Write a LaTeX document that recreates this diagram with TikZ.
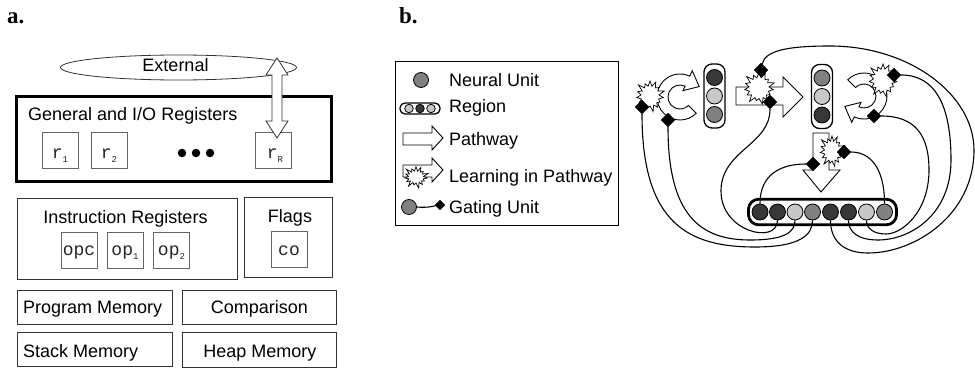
\documentclass[tikz,border=0pt]{standalone}
\usepackage{fontspec}
\setmainfont{Liberation Sans}
\newfontfamily\monofnt{Liberation Mono}
\newfontfamily\labfnt{Liberation Serif}
\usetikzlibrary{shapes.geometric,shapes.symbols,calc}
\definecolor{cdark}{HTML}{383838}
\definecolor{clight}{HTML}{C8C8C8}
\definecolor{cmid}{HTML}{808080}
\pgfdeclarelayer{paper}
\pgfdeclarelayer{wires}
\pgfsetlayers{paper,wires,main}
\newcommand{\subnum}[1]{\raisebox{-4pt}{\fontsize{9}{9}\selectfont #1}}
\begin{document}
\begin{tikzpicture}[x=1pt,y=-1pt,
 txt/.style={font=\fontsize{18}{20}\selectfont, inner sep=0pt, anchor=base},
 mtxt/.style={font=\monofnt\fontsize{18}{20}\selectfont, inner sep=0pt, anchor=base, text=black!85},
 regbox/.style={draw=black!60, line width=0.8pt, minimum width=36pt, minimum height=36pt, inner sep=0pt},
 plainbox/.style={draw=black!80, line width=0.9pt, inner sep=0pt},
 unit/.style={circle, draw, line width=0.8pt, minimum size=16pt, inner sep=0pt},
 gate/.style={diamond, fill=black, draw=black, minimum width=14pt, minimum height=14pt, inner sep=0pt},
 burst/.style={starburst, draw, fill=white, line width=0.7pt, starburst points=15, starburst point height=7pt, inner sep=0pt},
 wire/.style={line width=1.1pt},
 pathway/.style={draw, fill=white, line width=0.9pt, line join=miter},
 regrect/.style={draw, rounded corners=8pt, line width=1.3pt, inner sep=0pt},
 lab/.style={font=\labfnt\bfseries\fontsize{23}{24}\selectfont, inner sep=0pt, anchor=base west},
]
\begin{pgfonlayer}{paper}
\fill[white] (0,0) rectangle (975,369);
\end{pgfonlayer}
\useasboundingbox (0,0) rectangle (975,369);

% labels
\node[lab] (la) at (7,24) {a.};
\node[lab] (lb) at (399,24) {b.};

% ---------- panel a ----------
\node[ellipse, draw=black!80, line width=0.8pt, minimum width=236pt, minimum height=25pt, inner sep=0pt] (ext) at (178.5,67.5) {};
\node[txt] (extt) at (175.5,71) {External};
\node[draw, line width=3.5pt, minimum width=315pt, minimum height=85pt, inner sep=0pt] (gen) at (174,139) {};
\node[txt, anchor=base west] (gent) at (28,121) {General and I/O Registers};
\node[regbox] (r1) at (60,150.5) {};
\node[regbox] (r2) at (109,150.5) {};
\node[regbox] (rR) at (273.5,150.5) {};
\node[mtxt] (r1t) at (60,158) {r\subnum{1}};
\node[mtxt] (r2t) at (109,158) {r\subnum{2}};
\node[mtxt] (rRt) at (275,158) {r\subnum{R}};
\node[circle, fill, minimum size=8.5pt, inner sep=0pt] (dot1) at (182,153) {};
\node[circle, fill, minimum size=8.5pt, inner sep=0pt] (dot2) at (196,153) {};
\node[circle, fill, minimum size=8.5pt, inner sep=0pt] (dot3) at (210,153) {};
\draw[pathway, draw=black!80, line width=0.8pt] (277,58) -- (288,75) -- (282,75) -- (282,121) -- (288,121) -- (277,138) -- (266,121) -- (272,121) -- (272,75) -- (266,75) -- cycle;

\node[plainbox, minimum width=220pt, minimum height=81pt] (ir) at (127,238.5) {};
\node[txt] (irt) at (125.5,223) {Instruction Registers};
\node[regbox] (opc) at (79,250.5) {};
\node[regbox] (op1) at (125,250.5) {};
\node[regbox] (op2) at (171.5,250.5) {};
\node[mtxt] (opct) at (79,255) {opc};
\node[mtxt] (op1t) at (125,255) {op\subnum{1}};
\node[mtxt] (op2t) at (171.5,255) {op\subnum{2}};
\node[plainbox, minimum width=88pt, minimum height=80pt] (fl) at (288,237) {};
\node[txt] (flt) at (290,222) {Flags};
\node[regbox] (co) at (289,249) {};
\node[mtxt] (cot) at (289,255) {co};

\node[plainbox, minimum width=155pt, minimum height=34pt] (pm) at (94.5,307) {};
\node[plainbox, minimum width=154pt, minimum height=34pt] (cmp) at (259,307) {};
\node[plainbox, minimum width=155pt, minimum height=34pt] (sm) at (94.5,349) {};
\node[plainbox, minimum width=154pt, minimum height=35pt] (hm) at (259,349.5) {};
\node[txt, anchor=base west] (pmt) at (23,313) {Program Memory};
\node[txt] (cmpt) at (259.5,313) {Comparison};
\node[txt, anchor=base west] (smt) at (23,357) {Stack Memory};
\node[txt] (hmt) at (260,357) {Heap Memory};

% ---------- panel b: legend ----------
\node[draw, line width=1pt, minimum width=223pt, minimum height=163pt, inner sep=0pt] (leg) at (506.5,143.5) {};
\node[unit, fill=cmid, minimum size=15pt] (lu) at (421,80) {};
\node[txt, anchor=base west] (lut) at (449,87) {Neural Unit};
\node[draw, rounded corners=5pt, line width=1.3pt, minimum width=40pt, minimum height=11pt, inner sep=0pt] (lr) at (420,108.5) {};
\node[unit, fill=clight, minimum size=8.5pt] (lr1) at (409,108.5) {};
\node[unit, fill=cdark, minimum size=8.5pt] (lr2) at (420,108.5) {};
\node[unit, fill=clight, minimum size=8.5pt] (lr3) at (431,108.5) {};
\node[txt, anchor=base west] (lrt) at (449,113) {Region};
\draw[pathway] (403,133) -- (432,133) -- (432,126) -- (443,138) -- (432,150) -- (432,145) -- (403,145) -- cycle;
\node[txt, anchor=base west] (lpt) at (449,145) {Pathway};
\draw[pathway] (403,165) -- (432,165) -- (432,158) -- (443,170) -- (432,182) -- (432,177) -- (403,177) -- cycle;
\node[burst, starburst point height=6pt, minimum width=27pt, minimum height=24pt] (lburst) at (416,177) {};
\node[txt, anchor=base west] (llt) at (449,182) {Learning in Pathway};
\node[unit, fill=cmid, minimum size=15pt] (lg) at (409,207) {};
\node[gate, minimum width=10pt, minimum height=10pt] (lgd) at (440,205) {};
\begin{pgfonlayer}{wires}
\draw[wire] (lg.east) .. controls (428,208) and (434,206) .. (lgd);
\end{pgfonlayer}
\node[txt, anchor=base west] (lgt) at (449,213) {Gating Unit};

% ---------- panel b: network ----------
\node[regrect, minimum width=21pt, minimum height=64pt] (reg1) at (714.5,96) {};
\node[unit, fill=cdark] (a1) at (714.5,77.5) {};
\node[unit, fill=clight] (a2) at (714.5,96) {};
\node[unit, fill=cmid] (a3) at (714.5,114.5) {};
\node[regrect, minimum width=21pt, minimum height=64pt] (reg2) at (822,96.5) {};
\node[unit, fill=cmid] (c1) at (822,78) {};
\node[unit, fill=clight] (c2) at (822,96.5) {};
\node[unit, fill=cdark] (c3) at (822,115) {};
\node[draw, rounded corners=10pt, line width=2.8pt, minimum width=148pt, minimum height=25.5pt, inner sep=0pt] (reg3) at (822.5,212) {};
\node[unit, fill=cdark] (b1) at (760,212) {};
\node[unit, fill=cdark] (b2) at (777.5,212) {};
\node[unit, fill=clight] (b3) at (795,212) {};
\node[unit, fill=cmid] (b4) at (812.5,212) {};
\node[unit, fill=cdark] (b5) at (830.5,212) {};
\node[unit, fill=cdark] (b6) at (848.5,212) {};
\node[unit, fill=clight] (b7) at (866.5,212) {};
\node[unit, fill=cmid] (b8) at (884.5,212) {};

% pathways
\draw[pathway] (736,87) -- (783,87) -- (783,77) -- (803,97) -- (783,117) -- (783,105) -- (736,105) -- cycle;
\draw[pathway] (813,133) -- (829,133) -- (829,170) -- (840,170) -- (821,192) -- (803,170) -- (813,170) -- cycle;
\coordinate (lc) at (680,97);
\draw[pathway] ($(lc)+(45:23)$) arc[start angle=45, end angle=295, radius=23] -- ($(lc)+(295:29)$) -- ($(lc)+(19.2,-10.4)$) -- ($(lc)+(295:7)$) -- ($(lc)+(295:12)$) arc[start angle=295, end angle=45, radius=12] -- cycle;
\coordinate (rc) at (864,96);
\draw[pathway] ($(rc)+(225:23)$) arc[start angle=225, end angle=475, radius=23] -- ($(rc)+(475:29)$) -- ($(rc)+(-19.2,10.4)$) -- ($(rc)+(475:7)$) -- ($(rc)+(475:12)$) arc[start angle=475, end angle=225, radius=12] -- cycle;

% learning bursts
\node[burst, minimum width=32pt, minimum height=34pt] (sL) at (650,96) {};
\node[burst, minimum width=34pt, minimum height=35pt] (sP) at (759,88) {};
\node[burst, minimum width=29pt, minimum height=34pt] (sD) at (832,151) {};
\node[burst, minimum width=33pt, minimum height=36pt] (sR) at (883,80) {};

% gating units
\node[gate] (dL1) at (642,107) {};
\node[gate] (dL2) at (668,120) {};
\node[gate] (dP1) at (761,70) {};
\node[gate] (dP2) at (770,102) {};
\node[gate] (dD1) at (813,164) {};
\node[gate] (dD2) at (844,152) {};
\node[gate] (dR1) at (894,75) {};
\node[gate] (dR2) at (874,116) {};

\begin{pgfonlayer}{wires}
\draw[wire] (b1.north) .. controls (760,175) and (780,164) .. (dD1);
\draw[wire] (b8.north) .. controls (884.5,165) and (868,152) .. (dD2);
\draw[wire] (dP2) .. controls (770,145) and (722,150) .. (721,190) .. controls (720,232) and (777.5,245) .. (b2.south);
\draw[wire] (dL2) .. controls (668,215) and (700,240) .. (750,240) .. controls (785,240) and (795,232) .. (b3.south);
\draw[wire] (dL1) .. controls (642,225) and (690,247) .. (755,247) .. controls (800,247) and (812.5,235) .. (b4.south);
\draw[wire] (dP1) .. controls (765,50) and (790,46) .. (830,46) .. controls (910,46) and (974,95) .. (974,150) .. controls (974,215) and (915,253) .. (868,253) .. controls (845,253) and (830.5,242) .. (b5.south);
\draw[wire] (dR1) .. controls (935,75) and (951,105) .. (951,160) .. controls (951,215) and (910,240) .. (878,240) .. controls (858,240) and (848.5,232) .. (b6.south);
\draw[wire] (dR2) .. controls (915,116) and (929,135) .. (929,170) .. controls (929,212) and (902,234) .. (886,234) .. controls (873,234) and (866.5,228) .. (b7.south);
\end{pgfonlayer}
\end{tikzpicture}
\end{document}
